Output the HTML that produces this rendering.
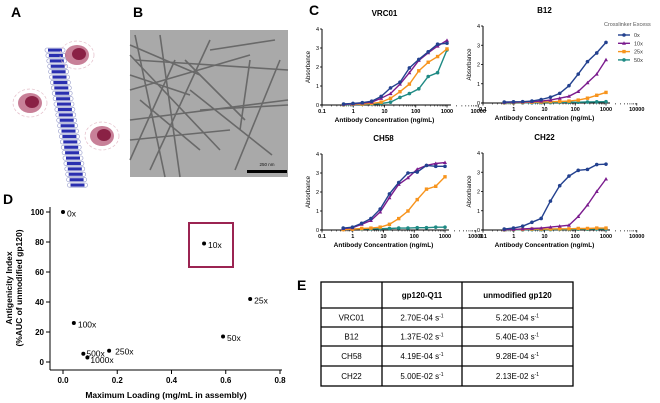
<!DOCTYPE html>
<html><head><meta charset="utf-8"><style>
html,body{margin:0;padding:0;background:#fff;width:660px;height:403px;overflow:hidden}
svg{display:block;font-family:"Liberation Sans",Arial,sans-serif}
</style></head><body>
<svg id="fig" width="660" height="403" viewBox="0 0 660 403">
<g font-weight="bold" font-size="14">
<text x="11" y="17">A</text>
<text x="133" y="17">B</text>
<text x="309" y="15">C</text>
<text x="3" y="204">D</text>
<text x="297" y="290">E</text>
</g>
<g id="panelA"></g>
<g>
<rect x="130" y="30" width="158" height="147" fill="#a9a9a9"/>
<g id="fibers" stroke="#5f5f5f" stroke-width="1.6" opacity="0.85"></g>
<rect x="247" y="170" width="40" height="3" fill="#000"/>
<text x="267" y="166" font-size="4.5" text-anchor="middle" fill="#111">250 nm</text>
</g>
<g id="panelC"></g>
<g id="legend"></g>
<g id="panelD"></g>
<g id="panelE"></g>
</svg>
<script>
const NS="http://www.w3.org/2000/svg";
function mk(p,t,a,txt){const e=document.createElementNS(NS,t);for(const k in a)e.setAttribute(k,a[k]);if(txt!==undefined)e.textContent=txt;p.appendChild(e);return e;}

// ---- Panel C data ----
const concentrations=[0.49,0.98,1.95,3.9,7.8,15.6,31.25,62.5,125,250,500,1000];
const seriesNames=["0x","10x","25x","50x"];
const seriesColors=["#23418f","#7b1c8e","#f7941d","#1f8a84"];
const vrc01_0x=[0.05,0.08,0.12,0.2,0.45,0.9,1.2,1.95,2.4,2.8,3.2,3.25];
const vrc01_10x=[0.03,0.06,0.1,0.15,0.35,0.6,1.1,1.7,2.35,2.75,3.1,3.4];
const vrc01_25x=[0.02,0.04,0.05,0.08,0.15,0.35,0.7,1.1,1.8,2.25,2.55,2.95];
const vrc01_50x=[0,0.02,0.03,0.05,0.08,0.15,0.4,0.6,0.85,1.5,1.7,2.9];
const b12_0x=[0.05,0.06,0.07,0.1,0.18,0.3,0.5,0.9,1.5,2.15,2.6,3.15];
const b12_10x=[0.03,0.04,0.05,0.07,0.1,0.15,0.25,0.35,0.6,1.05,1.5,2.25];
const b12_25x=[0.02,0.02,0.03,0.04,0.05,0.07,0.08,0.1,0.15,0.25,0.4,0.55];
const b12_50x=[0,0,0.01,0.01,0.02,0.02,0.03,0.04,0.04,0.05,0.06,0.07];
const ch58_0x=[0.1,0.15,0.35,0.6,1.1,1.9,2.5,3.0,3.05,3.4,3.35,3.35];
const ch58_10x=[0.08,0.12,0.3,0.5,0.95,1.7,2.4,2.75,3.2,3.4,3.5,3.55];
const ch58_25x=[0.02,0.04,0.08,0.1,0.15,0.3,0.6,1.0,1.6,2.15,2.3,2.8];
const ch58_50x=[0.05,0.05,0.06,0.06,0.07,0.08,0.1,0.1,0.12,0.12,0.15,0.15];
const ch22_0x=[0.05,0.1,0.2,0.4,0.6,1.5,2.3,2.8,3.1,3.15,3.4,3.42];
const ch22_10x=[0.02,0.03,0.05,0.08,0.1,0.15,0.2,0.25,0.7,1.3,2.0,2.65];
const ch22_25x=[0.02,0.03,0.03,0.05,0.05,0.05,0.06,0.06,0.08,0.08,0.1,0.1];
const ch22_50x=[0,0.01,0.01,0.02,0.02,0.02,0.03,0.03,0.04,0.04,0.05,0.05];
const xTickLabels=["0.1","1","10","100","1000","10000"];
const yTickLabels=["0","1","2","3","4"];
const panelTitles=["VRC01","B12","CH58","CH22"];

const panels=[
 {name:"vrc01",title:panelTitles[0],x0:322,x1:447,y0:105,y4:29,data:[vrc01_0x,vrc01_10x,vrc01_25x,vrc01_50x]},
 {name:"b12",title:panelTitles[1],x0:483,x1:606,y0:103,y4:26,data:[b12_0x,b12_10x,b12_25x,b12_50x]},
 {name:"ch58",title:panelTitles[2],x0:322,x1:445,y0:230,y4:154,data:[ch58_0x,ch58_10x,ch58_25x,ch58_50x]},
 {name:"ch22",title:panelTitles[3],x0:483,x1:606,y0:230,y4:153,data:[ch22_0x,ch22_10x,ch22_25x,ch22_50x]}
];
const C=document.getElementById("panelC");
panels.forEach(p=>{
 const g=mk(C,"g",{});
 
 
 const xs=v=>p.x0+(Math.log10(v)+1)/4*(p.x1-p.x0);
 const ys=v=>p.y0-v/4*(p.y0-p.y4);
 const t=mk(g,"text",{x:(p.x0+p.x1)/2,y:p.y4-13,"font-size":"8","font-weight":"bold","text-anchor":"middle"},p.title);
 
 
 mk(g,"line",{x1:p.x0,y1:p.y0,x2:p.x0,y2:p.y4,stroke:"#000","stroke-width":"1"});
 mk(g,"line",{x1:p.x0-2,y1:p.y0,x2:p.x1+4,y2:p.y0,stroke:"#000","stroke-width":"1"});
 yTickLabels.forEach((l,i)=>{const y=ys(+l);mk(g,"line",{x1:p.x0-2,y1:y,x2:p.x0,y2:y,stroke:"#000","stroke-width":"0.8"});mk(g,"text",{x:p.x0-3,y:y+2,"font-size":"5.5","text-anchor":"end"},l);});
 xTickLabels.forEach((l,i)=>{const x=xs(+l);mk(g,"line",{x1:x,y1:p.y0,x2:x,y2:p.y0+2.5,stroke:"#000","stroke-width":"0.8"});
   for(let m=2;m<10&&i<5;m++){const xm=xs(+l*m);mk(g,"line",{x1:xm,y1:p.y0,x2:xm,y2:p.y0+1.5,stroke:"#000","stroke-width":"0.5"});}
   mk(g,"text",{x:x,y:p.y0+8,"font-size":"5.5","text-anchor":"middle","font-weight":"bold"},l);});
 const xl=mk(g,"text",{x:(p.x0+p.x1)/2,y:p.y0+17,"font-size":"6.5","font-weight":"bold","text-anchor":"middle"},"Antibody Concentration (ng/mL)");
 
 
 const yl=mk(g,"text",{x:0,y:0,"font-size":"6","text-anchor":"middle",transform:`translate(${p.x0-12},${(p.y0+p.y4)/2}) rotate(-90)`},"Absorbance");
 
 
 for(let s=3;s>=0;s--){
  const vals=p.data[s];const col=seriesColors[s];
  const pts=vals.map((v,i)=>xs(concentrations[i]).toFixed(1)+","+ys(v).toFixed(1)).join(" ");
  const pl=mk(g,"polyline",{points:pts,fill:"none",stroke:col,"stroke-width":"1.4"});
  
  
  vals.forEach((v,i)=>{
   const cx=xs(concentrations[i]),cy=ys(v);let m;
   if(s==1)m=mk(g,"path",{d:`M${cx-2},${cy+1.5}L${cx+2},${cy+1.5}L${cx},${cy-2}Z`,fill:col});
   else if(s==2)m=mk(g,"rect",{x:cx-1.7,y:cy-1.7,width:3.4,height:3.4,fill:col});
   else m=mk(g,"circle",{cx:cx,cy:cy,r:1.8,fill:col});
   
   
  });
 }
});
// legend
const L=document.getElementById("legend");
mk(L,"text",{x:604,y:26,"font-size":"5.5",fill:"#555"},"Crosslinker Excess");
seriesNames.forEach((n,i)=>{
 const y=35+i*8.3;const col=seriesColors[i];
 const e=mk(L,"g",{});
 
 
 mk(e,"line",{x1:618,y1:y,x2:630,y2:y,stroke:col,"stroke-width":"1.4"});
 if(i==1)mk(e,"path",{d:`M622,${y+1.5}L626,${y+1.5}L624,${y-2}Z`,fill:col});
 else if(i==2)mk(e,"rect",{x:622.3,y:y-1.7,width:3.4,height:3.4,fill:col});
 else mk(e,"circle",{cx:624,cy:y,r:1.8,fill:col});
 mk(e,"text",{x:634,y:y+2,"font-size":"5.5",fill:"#333"},n);
});

// ---- Panel D ----
const loadLabels=["0x","10x","25x","50x","100x","250x","500x","1000x"];
const maxLoading=[0,0.52,0.69,0.59,0.04,0.17,0.075,0.09];
const antigenicity=[100,79,42,17,26,7.5,5.5,3];
const dXTicks=["0.0","0.2","0.4","0.6","0.8"];
const dYTicks=["0","20","40","60","80","100"];
const D=document.getElementById("panelD");
const dx=v=>63+v*271.25, dy=v=>362-v*1.5;
mk(D,"line",{x1:50,y1:207,x2:50,y2:370,stroke:"#000","stroke-width":"1"});
mk(D,"line",{x1:50,y1:370,x2:282,y2:370,stroke:"#000","stroke-width":"1"});
dYTicks.forEach(l=>{const y=dy(+l);mk(D,"line",{x1:46,y1:y,x2:50,y2:y,stroke:"#000","stroke-width":"1"});mk(D,"text",{x:44,y:y+3,"font-size":"8","font-weight":"bold","text-anchor":"end"},l);});
dXTicks.forEach(l=>{const x=dx(+l);mk(D,"line",{x1:x,y1:370,x2:x,y2:374,stroke:"#000","stroke-width":"1"});mk(D,"text",{x:x,y:383,"font-size":"8","font-weight":"bold","text-anchor":"middle"},l);});
const dxl=mk(D,"text",{x:166,y:398,"font-size":"8.5","font-weight":"bold","text-anchor":"middle"},"Maximum Loading (mg/mL in assembly)");


const dyl=mk(D,"text",{x:0,y:0,"font-size":"8.5","font-weight":"bold","text-anchor":"middle",transform:"translate(12,288) rotate(-90)"});


mk(dyl,"tspan",{x:0,dy:0},"Antigenicity Index");
mk(dyl,"tspan",{x:0,dy:10},"(%AUC of unmodified gp120)");
const box=mk(D,"rect",{x:189,y:223,width:44,height:44,fill:"none",stroke:"#9b2452","stroke-width":"2"});


const off={"500x":[3,0],"1000x":[3,3],"250x":[6,1]};
loadLabels.forEach((l,i)=>{
 const x=dx(maxLoading[i]),y=dy(antigenicity[i]);
 const c=mk(D,"circle",{cx:x,cy:y,r:2,fill:"#000"});
 
 
 const o=off[l]||[4,2];
 mk(D,"text",{x:x+o[0],y:y+o[1]+2.5,"font-size":"8.5"},l);
});

// ---- Panel E table ----
const tableCols=["","gp120-Q11","unmodified gp120"];
const tableAbs=["VRC01","B12","CH58","CH22"];
const tableQ11=["2.70E-04","1.37E-02","4.19E-04","5.00E-02"];
const tableUnmod=["5.20E-04","5.40E-03","9.28E-04","2.13E-02"];
const E=document.getElementById("panelE");
const colX=[321,382,462,573], rowY=[282,308,327,346,366,386];
mk(E,"rect",{x:321,y:282,width:252,height:104,fill:"#fff",stroke:"#000","stroke-width":"1.3"});
colX.slice(1,3).forEach(x=>mk(E,"line",{x1:x,y1:282,x2:x,y2:386,stroke:"#000","stroke-width":"1.3"}));
rowY.slice(1,5).forEach(y=>mk(E,"line",{x1:321,y1:y,x2:573,y2:y,stroke:"#000","stroke-width":"1.3"}));
tableCols.forEach((c,i)=>{if(c)mk(E,"text",{x:(colX[i]+colX[i+1])/2,y:298,"font-size":"8","font-weight":"bold","text-anchor":"middle"},c);});
tableAbs.forEach((a,r)=>{
 const y=(rowY[r+1]+rowY[r+2])/2+3;
 const row=mk(E,"g",{});
 
 
 mk(row,"text",{x:351.5,y:y,"font-size":"8","text-anchor":"middle"},a);
 [tableQ11[r],tableUnmod[r]].forEach((v,j)=>{
  const t=mk(row,"text",{x:(colX[j+1]+colX[j+2])/2,y:y,"font-size":"8","text-anchor":"middle"},v+" s");
  mk(t,"tspan",{dy:-3,"font-size":"5"},"-1");
 });
});

// ---- Panel A (schematic) ----
const A=document.getElementById("panelA");
for(let i=0;i<26;i++){
 const y=48+i*5.4, x=45+i*0.9;
 mk(A,"rect",{x:x,y:y,width:20,height:4.2,rx:2,fill:"none",stroke:"#8f95c8","stroke-width":"0.6"});
 mk(A,"rect",{x:x+3,y:y+0.6,width:14,height:3,fill:"#2a2fb0"});
}
[[77,55],[30,103],[102,136]].forEach(([cx,cy],k)=>{
 const b=mk(A,"g",{});
 
 
 mk(b,"ellipse",{cx:cx,cy:cy,rx:17,ry:14,fill:"none",stroke:"#e3bcc8","stroke-width":"0.7","stroke-dasharray":"3 2"});
 mk(b,"ellipse",{cx:cx,cy:cy,rx:12,ry:10,fill:"#b04a6c",opacity:"0.7"});
 mk(b,"ellipse",{cx:cx+2,cy:cy-1,rx:7,ry:6,fill:"#8a2145"});
});
// fibers
const F=document.getElementById("fibers");
[[130,45,200,75],[135,60,288,70],[130,90,250,55],[185,60,245,120],[190,90,272,155],[150,170,210,40],[130,120,288,100],[210,50,275,40],[130,140,230,130],[235,170,280,60],[160,35,180,177],[140,100,200,150],[200,110,288,105],[250,60,240,130],[130,75,190,95],[130,160,175,60],[135,35,165,177],[130,55,220,150]].forEach(l=>{
 mk(F,"line",{x1:l[0],y1:l[1],x2:l[2],y2:l[3]});
});
</script>
</body></html>
